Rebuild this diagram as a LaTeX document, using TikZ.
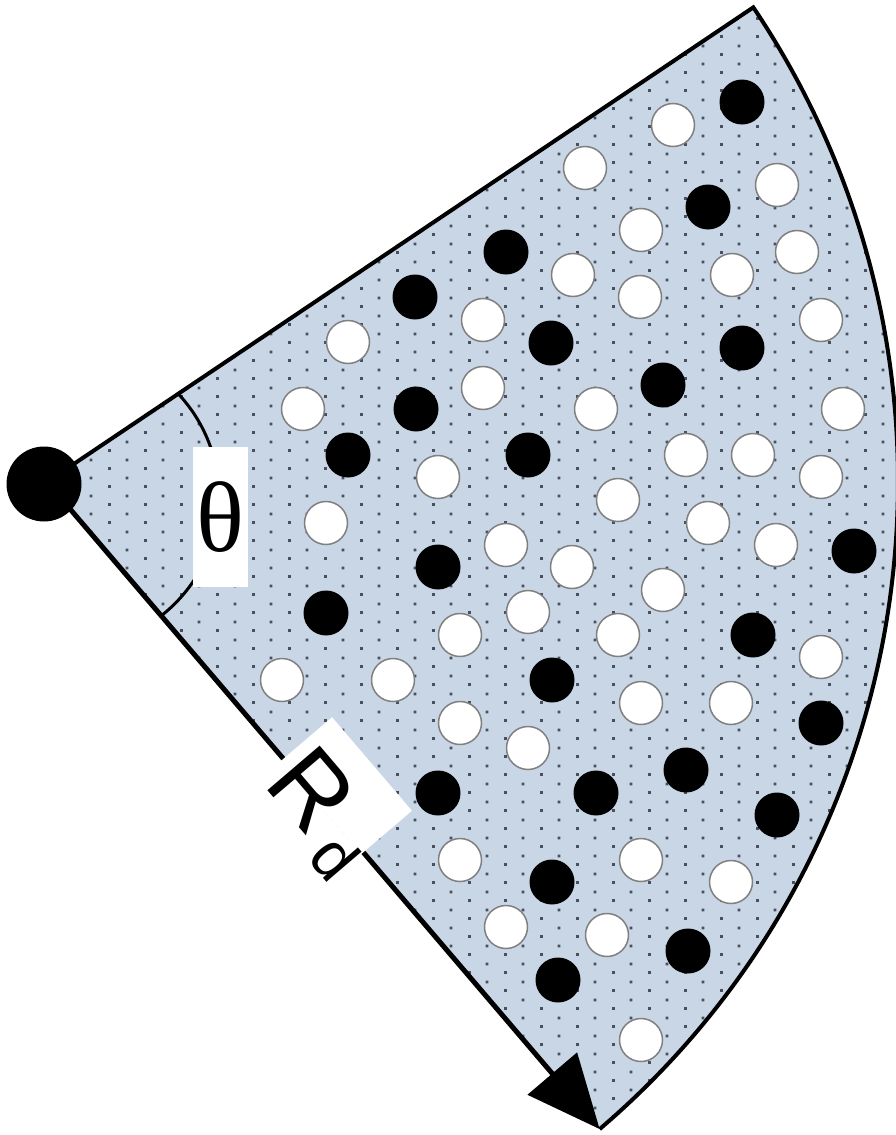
\documentclass[tikz,border=0pt]{standalone}
\usepackage{fontspec}
\usepackage{tikz}
\usetikzlibrary{arrows.meta,patterns}
\newfontfamily\thetafont{Liberation Serif}
\newfontfamily\labelfont{Liberation Sans}
\definecolor{wedgeblue}{RGB}{201,214,230}
\definecolor{dotgrey}{RGB}{72,80,94}
\pgfdeclarepatternformonly{wedgedots}{\pgfpointorigin}{\pgfpoint{36pt}{18pt}}{\pgfpoint{36pt}{18pt}}{%
  \pgfpathrectangle{\pgfpoint{0pt}{0pt}}{\pgfpoint{3pt}{3pt}}%
  \pgfpathrectangle{\pgfpoint{18pt}{9pt}}{\pgfpoint{3pt}{3pt}}%
  \pgfusepath{fill}}
\newcommand{\whitebead}[1]{\draw[fill=white,draw=gray,line width=1.5] (#1) circle (21.5);}
\newcommand{\blackbead}[1]{\fill (#1) circle (22.5);}
\newcommand{\wedgepath}{(apex) -- (top) arc (-33.9:49.5:851) -- cycle}

\begin{document}
\begin{tikzpicture}[x=1pt,y=-1pt,
  thetabox/.style={fill=white,inner sep=0,minimum width=55pt,minimum height=140pt,
    font=\thetafont\fontsize{100}{100}\selectfont},
  rlabel/.style={inner sep=0,anchor=base west,rotate=-49.5,
    font=\labelfont\fontsize{100}{100}\selectfont}]
\useasboundingbox (0,0) rectangle (895,1135);
\coordinate (apex) at (47,482);
\path (apex) ++(-33.9:851) coordinate (top);
\path (apex) ++(49.5:851) coordinate (tip);
\fill[wedgeblue] \wedgepath;
\fill[pattern=wedgedots,pattern color=dotgrey] \wedgepath;
\begin{scope}
\clip \wedgepath;
\draw[line width=3] (68,497) circle (151);
\end{scope}
% beads
\foreach \x/\y in {742/102,708/207,506/252,415/297,551/343,742/348,663/385,416/409,
  348/455,528/455,438/567,854/551,326/613,753/635,552/680,821/723,686/770,
  438/793,596/793,777/815,552/882,688/951,558/980}
  {\blackbead{\x,\y}}
\foreach \x/\y in {673/125,585/168,777/185,641/230,797/252,573/275,732/275,640/297,
  483/320,821/320,348/342,483/388,596/409,843/409,303/409,438/477,686/455,
  753/455,821/477,618/500,326/523,708/523,506/545,776/545,572/567,663/590,
  528/612,460/635,618/635,282/680,393/680,821/657,641/703,731/703,460/723,
  528/748,460/860,641/860,731/882,506/927,607/935,641/1040}
  {\whitebead{\x,\y}}
\node[thetabox] (theta) at (220.5,517) {θ};
\draw[line width=4] (apex) -- (top) arc (-33.9:49.5:851);
\draw[line width=5,-{Triangle[length=73pt,width=64pt]}] (apex) -- (tip);
\begin{scope}[shift={(apex)},rotate=-49.5]
\fill[white] (364,-64) rectangle (487,3);
\node[rlabel] (radius) at (370,33) {R\hspace{12pt}\raisebox{-14pt}{\fontsize{64}{64}\selectfont d}};
\end{scope}
\node[circle,fill,inner sep=0,minimum size=75pt] (hub) at (44,484) {};
\end{tikzpicture}
\end{document}
